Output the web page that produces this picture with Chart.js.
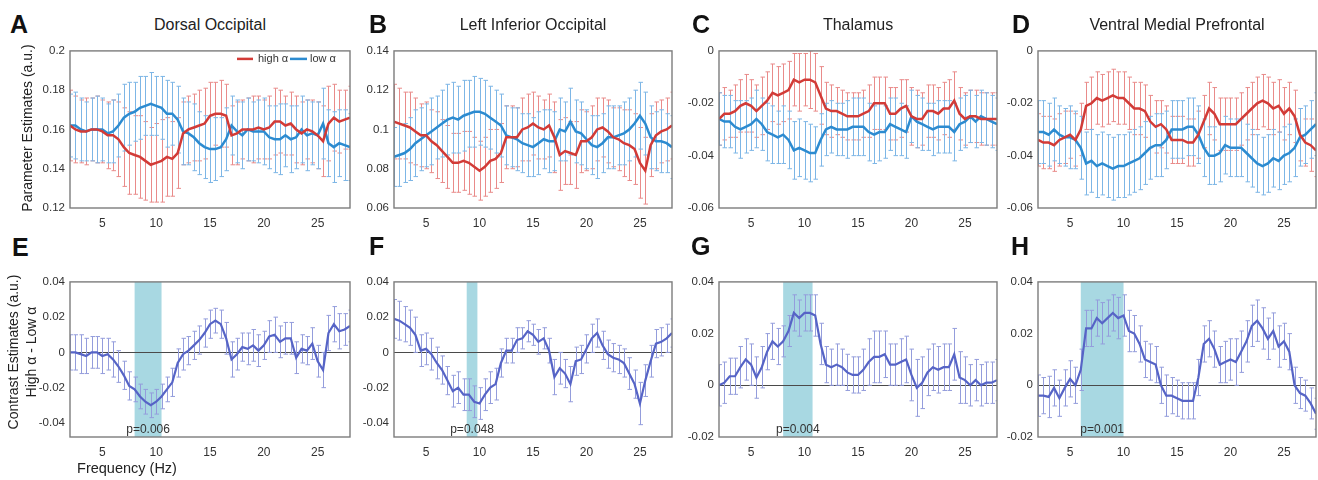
<!DOCTYPE html>
<html>
<head>
<meta charset="utf-8">
<script src="https://cdn.jsdelivr.net/npm/chart.js@4.4.1/dist/chart.umd.min.js"></script>
<style>
  body { margin: 0; background: #fff; width: 1318px; height: 480px; position: relative; overflow: hidden;
         font-family: "Liberation Sans", Arial, sans-serif; color: #222; }
  canvas { position: absolute; }
  .t { position: absolute; white-space: nowrap; line-height: 1; }
  .letter { font-weight: bold; font-size: 25px; color: #111; transform: translateY(-50%); }
  .title { font-size: 16px; transform: translate(-50%, -50%); }
  .ylab { font-size: 14px; transform: translate(-50%, -50%) rotate(-90deg); text-align: center; line-height: 18px; }
  .xlab { font-size: 14.5px; transform: translate(-50%, -50%); }
</style>
</head>
<body>
<script>
// frequencies (Hz)
var freqs = [2,2.5,3,3.5,4,4.5,5,5.5,6,6.5,7,7.5,8,8.5,9,9.5,10,10.5,11,11.5,12,12.5,13,13.5,14,14.5,15,15.5,16,16.5,17,17.5,18,18.5,19,19.5,20,20.5,21,21.5,22,22.5,23,23.5,24,24.5,25,25.5,26,26.5,27,27.5,28];

var xTicks = [5, 10, 15, 20, 25];
var yTicksA = [0.12, 0.14, 0.16, 0.18, 0.2];
var yTicksB = [0.06, 0.08, 0.1, 0.12, 0.14];
var yTicksCD = [-0.06, -0.04, -0.02, 0];
var yTicksEF = [-0.04, -0.02, 0, 0.02, 0.04];
var yTicksGH = [-0.02, 0, 0.02, 0.04];

var titles = ['Dorsal Occipital', 'Left Inferior Occipital', 'Thalamus', 'Ventral Medial Prefrontal'];
var seriesNames = ['high \u03b1', 'low \u03b1'];

// A: Dorsal Occipital
var highA = [0.162,0.160,0.159,0.159,0.160,0.160,0.159,0.157,0.157,0.155,
             0.151,0.148,0.147,0.146,0.144,0.142,0.143,0.144,0.146,0.145,
             0.148,0.158,0.160,0.161,0.162,0.163,0.167,0.168,0.168,0.167,
             0.157,0.158,0.160,0.160,0.160,0.161,0.160,0.161,0.164,0.164,
             0.162,0.163,0.160,0.158,0.160,0.159,0.157,0.154,0.163,0.166,
             0.164,0.165,0.166];
var highAErr = [0.018,0.017,0.016,0.017,0.016,0.017,0.016,0.017,0.018,0.019,
                0.020,0.021,0.020,0.021,0.020,0.019,0.020,0.021,0.020,0.019,
                0.018,0.016,0.017,0.017,0.018,0.018,0.017,0.016,0.017,0.016,
                0.015,0.016,0.015,0.016,0.017,0.016,0.015,0.016,0.017,0.016,
                0.015,0.016,0.017,0.016,0.015,0.016,0.017,0.018,0.019,0.017,
                0.016,0.015,0.016];
var lowA = [0.162,0.162,0.160,0.159,0.160,0.160,0.160,0.158,0.159,0.162,
            0.166,0.168,0.169,0.171,0.172,0.173,0.172,0.171,0.168,0.168,
            0.165,0.159,0.158,0.156,0.153,0.151,0.150,0.150,0.151,0.155,
            0.162,0.159,0.157,0.160,0.159,0.159,0.159,0.156,0.155,0.155,
            0.157,0.155,0.156,0.160,0.157,0.158,0.157,0.163,0.153,0.151,
            0.153,0.152,0.151];
var lowAErr = [0.016,0.017,0.016,0.015,0.016,0.017,0.016,0.015,0.016,0.016,
               0.017,0.016,0.015,0.016,0.015,0.016,0.015,0.016,0.017,0.016,
               0.017,0.017,0.016,0.017,0.016,0.016,0.017,0.016,0.015,0.016,
               0.015,0.016,0.017,0.016,0.015,0.016,0.017,0.016,0.017,0.018,
               0.016,0.017,0.016,0.017,0.018,0.016,0.017,0.018,0.017,0.018,
               0.017,0.018,0.017];

// B: Left Inferior Occipital
var highB = [0.104,0.103,0.102,0.101,0.099,0.097,0.097,0.094,0.092,0.089,
             0.086,0.083,0.083,0.084,0.083,0.081,0.079,0.081,0.084,0.085,
             0.088,0.096,0.096,0.096,0.100,0.101,0.103,0.101,0.100,0.102,
             0.096,0.087,0.089,0.088,0.087,0.094,0.094,0.096,0.100,0.101,
             0.099,0.096,0.095,0.093,0.092,0.090,0.083,0.079,0.092,0.097,
             0.099,0.100,0.102];
var highBErr = [0.019,0.018,0.017,0.018,0.017,0.016,0.017,0.016,0.017,0.016,
                0.016,0.015,0.015,0.015,0.016,0.015,0.015,0.015,0.016,0.015,
                0.015,0.016,0.016,0.015,0.016,0.017,0.016,0.016,0.015,0.016,
                0.018,0.018,0.017,0.016,0.017,0.016,0.015,0.016,0.016,0.015,
                0.016,0.015,0.016,0.017,0.018,0.018,0.018,0.017,0.016,0.017,
                0.016,0.016,0.017];
var lowB = [0.086,0.087,0.088,0.090,0.093,0.095,0.097,0.099,0.101,0.103,
            0.105,0.106,0.105,0.107,0.108,0.109,0.109,0.108,0.106,0.104,
            0.102,0.097,0.096,0.095,0.093,0.092,0.091,0.093,0.095,0.094,
            0.094,0.100,0.099,0.104,0.099,0.098,0.095,0.092,0.091,0.093,
            0.096,0.096,0.097,0.098,0.100,0.103,0.107,0.103,0.096,0.094,
            0.094,0.093,0.091];
var lowBErr = [0.015,0.016,0.015,0.016,0.017,0.016,0.016,0.017,0.016,0.017,
               0.018,0.018,0.017,0.018,0.017,0.018,0.017,0.017,0.016,0.016,
               0.016,0.015,0.015,0.016,0.015,0.016,0.015,0.016,0.015,0.016,
               0.015,0.016,0.015,0.017,0.016,0.016,0.015,0.015,0.016,0.015,
               0.016,0.016,0.015,0.016,0.016,0.017,0.017,0.016,0.016,0.015,
               0.016,0.015,0.016];

// C: Thalamus
var highC = [-0.026,-0.024,-0.024,-0.023,-0.021,-0.020,-0.021,-0.023,-0.021,-0.019,
             -0.016,-0.017,-0.016,-0.015,-0.011,-0.012,-0.011,-0.011,-0.012,-0.017,
             -0.022,-0.023,-0.023,-0.024,-0.025,-0.025,-0.025,-0.024,-0.023,-0.020,
             -0.020,-0.020,-0.024,-0.024,-0.022,-0.021,-0.025,-0.026,-0.026,-0.023,
             -0.023,-0.024,-0.022,-0.022,-0.019,-0.024,-0.026,-0.025,-0.025,-0.026,
             -0.026,-0.026,-0.026];
var highCErr = [0.010,0.010,0.009,0.010,0.010,0.011,0.010,0.010,0.011,0.011,
                0.011,0.011,0.011,0.011,0.010,0.011,0.010,0.011,0.011,0.011,
                0.010,0.010,0.009,0.009,0.009,0.009,0.009,0.009,0.010,0.010,
                0.010,0.010,0.010,0.010,0.011,0.010,0.011,0.011,0.010,0.010,
                0.010,0.010,0.010,0.011,0.011,0.010,0.010,0.010,0.010,0.010,
                0.010,0.010,0.010];
var lowC = [-0.026,-0.027,-0.027,-0.029,-0.030,-0.029,-0.028,-0.026,-0.028,-0.031,
            -0.032,-0.033,-0.032,-0.034,-0.038,-0.037,-0.038,-0.039,-0.039,-0.034,
            -0.030,-0.029,-0.030,-0.030,-0.030,-0.029,-0.029,-0.029,-0.031,-0.032,
            -0.031,-0.031,-0.028,-0.029,-0.030,-0.031,-0.025,-0.027,-0.028,-0.029,
            -0.030,-0.029,-0.029,-0.029,-0.031,-0.028,-0.027,-0.025,-0.027,-0.025,
            -0.026,-0.027,-0.028];
var lowCErr = [0.010,0.010,0.010,0.010,0.011,0.010,0.010,0.011,0.010,0.011,
               0.011,0.010,0.011,0.011,0.011,0.011,0.011,0.011,0.010,0.010,
               0.010,0.010,0.010,0.010,0.011,0.011,0.011,0.011,0.011,0.011,
               0.011,0.010,0.010,0.011,0.010,0.010,0.010,0.010,0.010,0.009,
               0.010,0.010,0.010,0.010,0.011,0.010,0.010,0.010,0.010,0.010,
               0.010,0.010,0.010];

// D: Ventral Medial Prefrontal
var highD = [-0.034,-0.035,-0.035,-0.036,-0.034,-0.033,-0.032,-0.034,-0.030,-0.021,
             -0.020,-0.018,-0.019,-0.018,-0.017,-0.018,-0.018,-0.020,-0.022,-0.022,
             -0.023,-0.027,-0.029,-0.028,-0.030,-0.034,-0.034,-0.034,-0.035,-0.035,
             -0.032,-0.027,-0.022,-0.024,-0.028,-0.028,-0.028,-0.028,-0.026,-0.024,
             -0.022,-0.020,-0.019,-0.020,-0.022,-0.021,-0.024,-0.022,-0.025,-0.032,
             -0.035,-0.036,-0.038];
var highDErr = [0.010,0.010,0.010,0.010,0.010,0.010,0.009,0.010,0.010,0.009,
                0.010,0.010,0.010,0.010,0.010,0.010,0.010,0.010,0.010,0.010,
                0.010,0.010,0.010,0.009,0.009,0.009,0.009,0.009,0.009,0.009,
                0.009,0.010,0.010,0.010,0.010,0.010,0.010,0.010,0.010,0.010,
                0.010,0.010,0.010,0.010,0.010,0.010,0.010,0.010,0.010,0.010,
                0.009,0.010,0.010];
var lowD = [-0.031,-0.031,-0.032,-0.030,-0.032,-0.033,-0.033,-0.034,-0.037,-0.043,
            -0.042,-0.044,-0.043,-0.044,-0.045,-0.044,-0.044,-0.043,-0.042,-0.041,
            -0.039,-0.037,-0.036,-0.036,-0.034,-0.030,-0.030,-0.030,-0.029,-0.029,
            -0.032,-0.037,-0.040,-0.040,-0.039,-0.036,-0.037,-0.037,-0.037,-0.039,
            -0.041,-0.043,-0.044,-0.043,-0.041,-0.042,-0.040,-0.039,-0.037,-0.033,
            -0.032,-0.030,-0.028];
var lowDErr = [0.012,0.012,0.012,0.012,0.011,0.011,0.012,0.011,0.012,0.012,
               0.012,0.012,0.012,0.012,0.012,0.012,0.012,0.012,0.012,0.012,
               0.012,0.012,0.012,0.012,0.011,0.011,0.011,0.011,0.011,0.011,
               0.011,0.011,0.011,0.011,0.011,0.011,0.011,0.011,0.011,0.011,
               0.011,0.011,0.011,0.011,0.011,0.011,0.011,0.011,0.011,0.011,
               0.011,0.011,0.012];

// E-H: contrast high alpha - low alpha
var diffE = [0.000,0.000,-0.001,-0.002,0.000,0.000,-0.002,-0.001,-0.004,-0.008,
             -0.013,-0.019,-0.021,-0.025,-0.028,-0.030,-0.028,-0.025,-0.021,-0.017,
             -0.006,-0.001,0.001,0.004,0.007,0.011,0.016,0.018,0.016,0.008,
             -0.004,-0.001,0.003,0.002,0.004,0.001,0.004,0.009,0.010,0.006,
             0.008,0.008,-0.003,0.002,0.001,0.005,-0.005,-0.010,0.011,0.016,
             0.012,0.013,0.015];
var diffEErr = [0.010,0.010,0.011,0.010,0.009,0.009,0.010,0.009,0.010,0.009,
                0.008,0.008,0.007,0.007,0.007,0.007,0.007,0.007,0.007,0.008,
                0.008,0.009,0.008,0.008,0.008,0.008,0.008,0.007,0.008,0.009,
                0.010,0.009,0.008,0.009,0.009,0.009,0.008,0.009,0.010,0.009,
                0.009,0.009,0.009,0.008,0.008,0.009,0.009,0.010,0.010,0.010,
                0.010,0.009,0.009];
var diffF = [0.019,0.018,0.016,0.014,0.010,0.001,0.002,-0.001,-0.006,-0.010,
             -0.016,-0.022,-0.020,-0.024,-0.024,-0.028,-0.029,-0.024,-0.020,-0.018,
             -0.006,0.001,0.001,0.007,0.008,0.012,0.010,0.006,0.008,0.001,
             -0.014,-0.009,-0.012,-0.018,-0.005,-0.004,0.002,0.008,0.011,0.004,
             -0.001,-0.003,-0.004,-0.006,-0.012,-0.018,-0.029,-0.016,-0.005,0.005,
             0.006,0.008,0.011];
var diffFErr = [0.011,0.011,0.010,0.010,0.010,0.009,0.009,0.009,0.009,0.008,
                0.008,0.009,0.009,0.009,0.009,0.009,0.009,0.009,0.009,0.009,
                0.008,0.007,0.007,0.007,0.006,0.006,0.006,0.007,0.006,0.007,
                0.010,0.009,0.008,0.010,0.008,0.008,0.008,0.008,0.008,0.008,
                0.008,0.008,0.008,0.008,0.009,0.008,0.012,0.009,0.009,0.008,
                0.008,0.008,0.008];
var diffG = [0.000,0.001,0.0035,0.0035,0.007,0.010,0.008,0.003,0.007,0.013,
             0.017,0.015,0.017,0.021,0.028,0.026,0.028,0.028,0.027,0.016,
             0.008,0.007,0.008,0.007,0.005,0.004,0.004,0.006,0.009,0.011,
             0.011,0.012,0.008,0.008,0.009,0.010,0.004,-0.001,0.001,0.005,
             0.007,0.006,0.007,0.007,0.012,0.003,0.002,0.000,0.002,0.000,
             0.001,0.001,0.002];
var diffGErr = [0.008,0.008,0.007,0.007,0.008,0.008,0.008,0.008,0.008,0.007,
                0.007,0.007,0.006,0.006,0.007,0.007,0.007,0.007,0.008,0.008,
                0.007,0.007,0.008,0.007,0.007,0.007,0.007,0.008,0.009,0.010,
                0.010,0.009,0.008,0.008,0.009,0.009,0.010,0.011,0.010,0.009,
                0.009,0.009,0.009,0.009,0.010,0.010,0.009,0.008,0.008,0.008,
                0.008,0.008,0.008];
var diffH = [-0.004,-0.004,-0.0045,-0.001,-0.005,-0.001,0.0025,0.000,0.006,0.022,
             0.022,0.026,0.024,0.026,0.028,0.026,0.027,0.021,0.020,0.016,
             0.010,0.009,0.008,0.000,-0.004,-0.004,-0.005,-0.006,-0.006,-0.006,
             0.003,0.016,0.018,0.014,0.008,0.009,0.010,0.009,0.013,0.017,
             0.023,0.025,0.022,0.018,0.021,0.015,0.017,0.013,0.000,-0.003,
             -0.004,-0.007,-0.011];
var diffHErr = [0.008,0.007,0.008,0.007,0.007,0.007,0.007,0.007,0.008,0.007,
                0.007,0.007,0.008,0.007,0.007,0.008,0.008,0.008,0.007,0.007,
                0.007,0.007,0.007,0.007,0.008,0.007,0.007,0.007,0.007,0.007,
                0.007,0.007,0.007,0.007,0.007,0.008,0.008,0.009,0.008,0.008,
                0.008,0.008,0.008,0.008,0.007,0.008,0.007,0.007,0.007,0.006,
                0.006,0.006,0.006];

// significant clusters (Hz) and their p-values
var bands = [[8, 10.5], [8.8, 9.8], [8, 10.75], [6, 10]];
var pLabels = ['p=0.006', 'p=0.048', 'p=0.004', 'p=0.001'];

var RED = '#d23b37', RED_ERR = '#e98b8a';
var BLUE = '#2c8bd0', BLUE_ERR = '#7db6e6';
var PURPLE = '#5664c6', PURPLE_ERR = '#949ddc';
var FONT = '"Liberation Sans", Arial, sans-serif';

function pts(vals) {
  return freqs.map(function (f, i) { return { x: f, y: vals[i] }; });
}

function fmt(v) {
  return String(parseFloat(Number(v).toFixed(4)));
}

var deco = {
  id: 'deco',
  beforeDatasetsDraw: function (chart, args, o) {
    var ctx = chart.ctx, ca = chart.chartArea;
    var x = chart.scales.x, y = chart.scales.y;
    ctx.save();
    ctx.beginPath();
    ctx.rect(ca.left, ca.top, ca.right - ca.left, ca.bottom - ca.top);
    ctx.clip();
    if (o.band) {
      var x0 = x.getPixelForValue(o.band[0]), x1 = x.getPixelForValue(o.band[1]);
      ctx.fillStyle = '#a8d8e2';
      ctx.fillRect(x0, ca.top, x1 - x0, ca.bottom - ca.top);
    }
    if (o.zero) {
      var y0 = Math.round(y.getPixelForValue(0)) + 0.5;
      ctx.strokeStyle = '#4a4a4a';
      ctx.lineWidth = 1.2;
      ctx.beginPath();
      ctx.moveTo(ca.left, y0);
      ctx.lineTo(ca.right, y0);
      ctx.stroke();
    }
    chart.data.datasets.forEach(function (ds) {
      ctx.strokeStyle = ds.errColor;
      ctx.lineWidth = 1;
      ctx.beginPath();
      ds.data.forEach(function (p, j) {
        var px = Math.round(x.getPixelForValue(p.x)) + 0.5;
        var t = y.getPixelForValue(p.y + ds.errors[j]);
        var b = y.getPixelForValue(p.y - ds.errors[j]);
        ctx.moveTo(px, t); ctx.lineTo(px, b);
        ctx.moveTo(px - 2, t); ctx.lineTo(px + 2.5, t);
        ctx.moveTo(px - 2, b); ctx.lineTo(px + 2.5, b);
      });
      ctx.stroke();
    });
    ctx.restore();
  },
  afterDatasetsDraw: function (chart, args, o) {
    var ctx = chart.ctx, ca = chart.chartArea;
    var x = chart.scales.x;
    ctx.save();
    if (o.pLabel) {
      var cx = (x.getPixelForValue(o.band[0]) + x.getPixelForValue(o.band[1])) / 2;
      ctx.font = '12px ' + FONT;
      ctx.fillStyle = '#333';
      ctx.textAlign = 'center';
      ctx.textBaseline = 'middle';
      ctx.fillText(o.pLabel, cx, ca.bottom - 7);
    }
    if (o.legend) {
      var ly = ca.top + 8;
      ctx.font = '11px ' + FONT;
      ctx.textBaseline = 'middle';
      ctx.lineWidth = 2.5;
      ctx.strokeStyle = RED;
      ctx.beginPath(); ctx.moveTo(ca.right - 113, ly); ctx.lineTo(ca.right - 97, ly); ctx.stroke();
      ctx.fillStyle = '#333';
      ctx.fillText(seriesNames[0], ca.right - 92, ly);
      ctx.strokeStyle = BLUE;
      ctx.beginPath(); ctx.moveTo(ca.right - 60, ly); ctx.lineTo(ca.right - 43, ly); ctx.stroke();
      ctx.fillText(seriesNames[1], ca.right - 40, ly);
    }
    ctx.strokeStyle = '#7c7c7c';
    ctx.lineWidth = 1.4;
    ctx.strokeRect(ca.left, ca.top, ca.right - ca.left, ca.bottom - ca.top);
    ctx.restore();
  }
};

var YW = 44, PT = 8, PR = 4, XH = 24;

function addText(cls, html, left, top) {
  var d = document.createElement('div');
  d.className = 't ' + cls;
  d.innerHTML = html;
  d.style.left = left + 'px';
  d.style.top = top + 'px';
  document.body.appendChild(d);
}

function makePanel(rect, yMin, yMax, yTicks, datasets, extra) {
  var c = document.createElement('canvas');
  c.width = YW + rect.w + PR;
  c.height = PT + rect.h + XH;
  c.style.left = (rect.l - YW) + 'px';
  c.style.top = (rect.t - PT) + 'px';
  document.body.appendChild(c);
  var tickFont = { family: FONT, size: 11.5 };
  new Chart(c, {
    type: 'line',
    data: { datasets: datasets },
    options: {
      responsive: false,
      animation: false,
      devicePixelRatio: 1,
      layout: { padding: { top: PT, right: PR, left: 0, bottom: 0 } },
      plugins: { legend: { display: false }, tooltip: { enabled: false }, deco: extra },
      elements: { point: { radius: 0 }, line: { tension: 0 } },
      scales: {
        x: {
          type: 'linear', min: 2, max: 28,
          afterBuildTicks: function (s) { s.ticks = xTicks.map(function (v) { return { value: v }; }); },
          afterFit: function (s) { s.height = XH; },
          grid: { display: false, drawTicks: false },
          border: { display: false },
          ticks: { padding: 8, font: { family: FONT, size: 12 }, color: '#333', maxRotation: 0, autoSkip: false,
                   callback: function (v) { return fmt(v); } }
        },
        y: {
          min: yMin, max: yMax,
          afterBuildTicks: function (s) { s.ticks = yTicks.map(function (v) { return { value: v }; }); },
          afterFit: function (s) { s.width = YW; },
          grid: { display: false, drawTicks: false },
          border: { display: false },
          ticks: { padding: 5, font: tickFont, color: '#333', autoSkip: false,
                   callback: function (v) { return fmt(v); } }
        }
      }
    },
    plugins: [deco]
  });
}

function pair(hi, hiErr, lo, loErr) {
  return [
    { label: seriesNames[0], data: pts(hi), errors: hiErr, errColor: RED_ERR, borderColor: RED, borderWidth: 2.5, fill: false },
    { label: seriesNames[1], data: pts(lo), errors: loErr, errColor: BLUE_ERR, borderColor: BLUE, borderWidth: 2.5, fill: false }
  ];
}

function single(vals, errs) {
  return [{ label: 'high \u03b1 - low \u03b1', data: pts(vals), errors: errs, errColor: PURPLE_ERR,
            borderColor: PURPLE, borderWidth: 2.2, fill: false }];
}

var cols = [{ l: 70, w: 280 }, { l: 394, w: 278 }, { l: 719, w: 278 }, { l: 1038, w: 278 }];
var topRow = { t: 47, h: 161 }, botRow = { t: 278, h: 159 };
function R(ci, row) { return { l: cols[ci].l, w: cols[ci].w, t: row.t, h: row.h }; }

makePanel(R(0, topRow), 0.12, 0.2, yTicksA, pair(highA, highAErr, lowA, lowAErr), { legend: true });
makePanel(R(1, topRow), 0.06, 0.14, yTicksB, pair(highB, highBErr, lowB, lowBErr), {});
makePanel(R(2, topRow), -0.06, 0, yTicksCD, pair(highC, highCErr, lowC, lowCErr), {});
makePanel(R(3, topRow), -0.06, 0, yTicksCD, pair(highD, highDErr, lowD, lowDErr), {});

makePanel(R(0, botRow), -0.048, 0.04, yTicksEF, single(diffE, diffEErr), { band: bands[0], pLabel: pLabels[0], zero: true });
makePanel(R(1, botRow), -0.048, 0.04, yTicksEF, single(diffF, diffFErr), { band: bands[1], pLabel: pLabels[1], zero: true });
makePanel(R(2, botRow), -0.02, 0.04, yTicksGH, single(diffG, diffGErr), { band: bands[2], pLabel: pLabels[2], zero: true });
makePanel(R(3, botRow), -0.02, 0.04, yTicksGH, single(diffH, diffHErr), { band: bands[3], pLabel: pLabels[3], zero: true });

// panel letters
var letters = [['A', 10, 24], ['B', 369, 24], ['C', 692, 24], ['D', 1012, 24],
               ['E', 12, 247], ['F', 369, 246], ['G', 691, 246], ['H', 1011, 246]];
letters.forEach(function (L) { addText('letter', L[0], L[1], L[2]); });

// titles
titles.forEach(function (t, i) { addText('title', t, cols[i].l + cols[i].w / 2, 25); });

// axis labels
addText('ylab', 'Parameter Estimates (a.u.)', 27, 128);
addText('ylab', 'Contrast Estimates (a.u.)<br>High \u03b1 - Low \u03b1', 22, 352);
addText('xlab', 'Frequency (Hz)', 127, 468);
</script>
</body>
</html>
